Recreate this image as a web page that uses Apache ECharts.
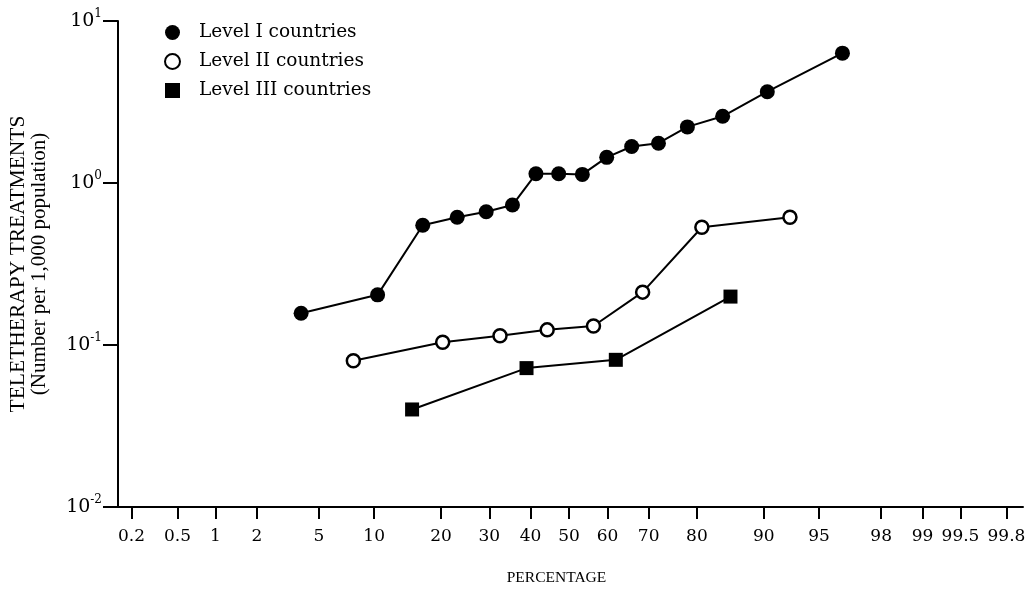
<!DOCTYPE html>
<html>
<head>
<meta charset="utf-8">
<script src="https://cdn.jsdelivr.net/npm/echarts@6/dist/echarts.min.js"></script>
<style>
  html, body { margin: 0; padding: 0; background: #fff; }
  #chart { width: 1027px; height: 594px; }
</style>
</head>
<body>
<div id="chart"></div>
<script>
// percentages (probability scale) and treatments per 1,000 population
var level1Pct = [3.9, 10.4, 16.8, 23.1, 29.3, 35.5, 41.4, 47.3, 53.5, 59.8, 66.0, 72.2, 78.2, 84.4, 90.4, 96.4];
var level1Val = [0.157, 0.204, 0.549, 0.615, 0.664, 0.731, 1.14, 1.14, 1.13, 1.44, 1.68, 1.76, 2.22, 2.58, 3.66, 6.33];
var level2Pct = [7.8, 20.3, 32.5, 44.3, 56.4, 68.6, 80.9, 92.7];
var level2Val = [0.080, 0.104, 0.114, 0.124, 0.131, 0.212, 0.533, 0.615];
var level3Pct = [15.1, 39.0, 62.1, 85.6];
var level3Val = [0.040, 0.072, 0.081, 0.199];
var xTicks = [0.2, 0.5, 1, 2, 5, 10, 20, 30, 40, 50, 60, 70, 80, 90, 95, 98, 99, 99.5, 99.8];
var yTicks = [0.01, 0.1, 1, 10];

// inverse normal CDF (Acklam), percentage -> z
function probit(pct) {
  var p = pct / 100;
  var a = [-3.969683028665376e+01, 2.209460984245205e+02, -2.759285104469687e+02, 1.383577518672690e+02, -3.066479806614716e+01, 2.506628277459239e+00];
  var b = [-5.447609879822406e+01, 1.615858368580409e+02, -1.556989798598866e+02, 6.680131188771972e+01, -1.328068155288572e+01];
  var c = [-7.784894002430293e-03, -3.223964580411365e-01, -2.400758277161838e+00, -2.549732539343734e+00, 4.374664141464968e+00, 2.938163982698783e+00];
  var d = [7.784695709041462e-03, 3.224671290700398e-01, 2.445134137142996e+00, 3.754408661907416e+00];
  var plow = 0.02425, q, r;
  if (p < plow) {
    q = Math.sqrt(-2 * Math.log(p));
    return (((((c[0] * q + c[1]) * q + c[2]) * q + c[3]) * q + c[4]) * q + c[5]) /
      ((((d[0] * q + d[1]) * q + d[2]) * q + d[3]) * q + 1);
  }
  if (p > 1 - plow) {
    q = Math.sqrt(-2 * Math.log(1 - p));
    return -(((((c[0] * q + c[1]) * q + c[2]) * q + c[3]) * q + c[4]) * q + c[5]) /
      ((((d[0] * q + d[1]) * q + d[2]) * q + d[3]) * q + 1);
  }
  q = p - 0.5;
  r = q * q;
  return (((((a[0] * r + a[1]) * r + a[2]) * r + a[3]) * r + a[4]) * r + a[5]) * q /
    (((((b[0] * r + b[1]) * r + b[2]) * r + b[3]) * r + b[4]) * r + 1);
}

function pairs(pct, val) {
  return pct.map(function (p, i) { return [probit(p), val[i]]; });
}

var xTickZ = xTicks.map(probit);
var serif = '"Liberation Serif", "DejaVu Serif", serif';
var wideSerif = '"DejaVu Serif", "Liberation Serif", serif';

var myChart = echarts.init(document.getElementById('chart'));
var option = {
  backgroundColor: '#fff',
  animation: false,
  grid: { left: 118, right: 4, top: 21, bottom: 87, outerBoundsMode: 'none', containLabel: false },
  legend: {
    orient: 'vertical',
    left: 159,
    top: 18,
    itemGap: 10,
    itemWidth: 15,
    itemHeight: 15,
    textStyle: { fontFamily: wideSerif, fontSize: 18.5, color: '#000', padding: [0, 0, 0, 14] },
    data: [
      { name: 'Level I countries', icon: 'circle', itemStyle: { color: '#000', borderWidth: 0 } },
      { name: 'Level II countries', icon: 'circle', itemStyle: { color: '#fff', borderColor: '#000', borderWidth: 2 } },
      { name: 'Level III countries', icon: 'rect', itemStyle: { color: '#000', borderWidth: 0 } }
    ]
  },
  xAxis: {
    type: 'value',
    min: -2.967,
    max: 2.987,
    name: 'PERCENTAGE',
    nameLocation: 'middle',
    nameGap: 63,
    nameTextStyle: { fontFamily: serif, fontSize: 15.5, color: '#000', padding: [0, 28, 0, 0] },
    splitLine: { show: false },
    axisLine: { onZero: false, lineStyle: { color: '#000', width: 2 } },
    axisTick: { customValues: xTickZ, length: 12, lineStyle: { color: '#000', width: 2 } },
    axisLabel: {
      customValues: xTickZ,
      margin: 21,
      fontFamily: wideSerif,
      fontSize: 17,
      color: '#000',
      formatter: function (v) {
        for (var i = 0; i < xTickZ.length; i++) {
          if (Math.abs(xTickZ[i] - v) < 1e-6) return String(xTicks[i]);
        }
        return '';
      }
    }
  },
  yAxis: {
    type: 'log',
    logBase: 10,
    min: 0.01,
    max: 10,
    interval: 1,
    name: '{a|TELETHERAPY TREATMENTS}\n{b|(Number per 1,000 population)}',
    nameLocation: 'middle',
    nameRotate: 90,
    nameGap: 69,
    nameTextStyle: {
      fontFamily: serif,
      color: '#000',
      rich: {
        a: { fontFamily: serif, fontSize: 21.5, lineHeight: 21, color: '#000' },
        b: { fontFamily: serif, fontSize: 21, lineHeight: 20, color: '#000' }
      }
    },
    splitLine: { show: false },
    minorTick: { show: false },
    axisLine: { onZero: false, lineStyle: { color: '#000', width: 2 } },
    axisTick: { length: 15, lineStyle: { color: '#000', width: 2 } },
    axisLabel: {
      margin: 16,
      formatter: function (v) {
        return '{b|10}{s|' + Math.round(Math.log10(v)) + '}';
      },
      rich: {
        b: { fontFamily: wideSerif, fontSize: 19, color: '#000' },
        s: { fontFamily: wideSerif, fontSize: 12, color: '#000', padding: [0, 0, 14, 0] }
      }
    }
  },
  series: [
    {
      name: 'Level I countries',
      type: 'line',
      symbol: 'circle',
      symbolSize: 15,
      itemStyle: { color: '#000' },
      lineStyle: { color: '#000', width: 2 },
      data: pairs(level1Pct, level1Val)
    },
    {
      name: 'Level II countries',
      type: 'line',
      symbol: 'circle',
      symbolSize: 13,
      itemStyle: { color: '#fff', borderColor: '#000', borderWidth: 2.5 },
      lineStyle: { color: '#000', width: 2 },
      data: pairs(level2Pct, level2Val)
    },
    {
      name: 'Level III countries',
      type: 'line',
      symbol: 'rect',
      symbolSize: 14,
      itemStyle: { color: '#000' },
      lineStyle: { color: '#000', width: 2 },
      data: pairs(level3Pct, level3Val)
    }
  ]
};
myChart.setOption(option);
</script>
</body>
</html>
